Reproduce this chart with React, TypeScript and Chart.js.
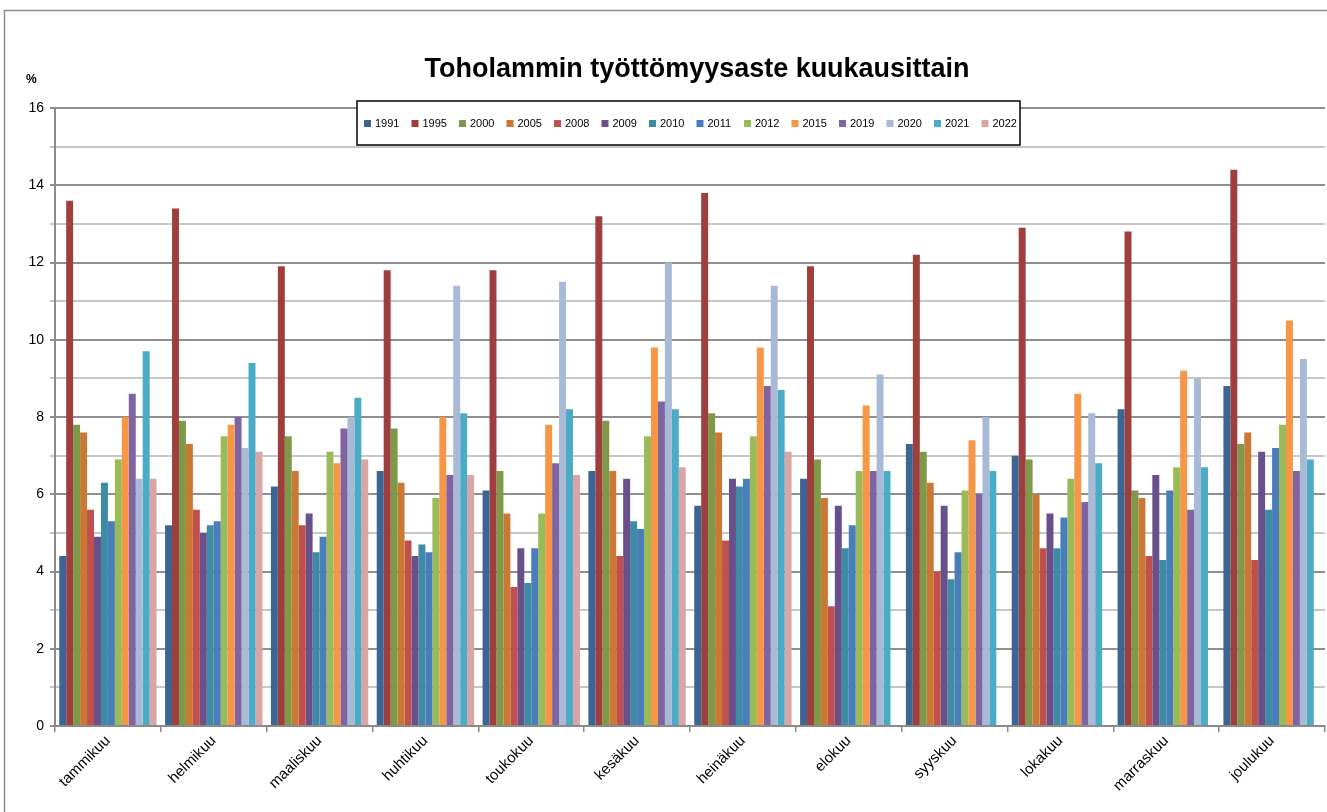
import React, { useEffect, useRef } from "react";
import { Chart, registerables } from "chart.js";

Chart.register(...registerables);

const months = ["tammikuu", "helmikuu", "maaliskuu", "huhtikuu", "toukokuu", "kesäkuu", "heinäkuu", "elokuu", "syyskuu", "lokakuu", "marraskuu", "joulukuu"];
const years = ["1991", "1995", "2000", "2005", "2008", "2009", "2010", "2011", "2012", "2015", "2019", "2020", "2021", "2022"];

const v1991 = [4.4, 5.2, 6.2, 6.6, 6.1, 6.6, 5.7, 6.4, 7.3, 7.0, 8.2, 8.8];
const v1995 = [13.6, 13.4, 11.9, 11.8, 11.8, 13.2, 13.8, 11.9, 12.2, 12.9, 12.8, 14.4];
const v2000 = [7.8, 7.9, 7.5, 7.7, 6.6, 7.9, 8.1, 6.9, 7.1, 6.9, 6.1, 7.3];
const v2005 = [7.6, 7.3, 6.6, 6.3, 5.5, 6.6, 7.6, 5.9, 6.3, 6.0, 5.9, 7.6];
const v2008 = [5.6, 5.6, 5.2, 4.8, 3.6, 4.4, 4.8, 3.1, 4.0, 4.6, 4.4, 4.3];
const v2009 = [4.9, 5.0, 5.5, 4.4, 4.6, 6.4, 6.4, 5.7, 5.7, 5.5, 6.5, 7.1];
const v2010 = [6.3, 5.2, 4.5, 4.7, 3.7, 5.3, 6.2, 4.6, 3.8, 4.6, 4.3, 5.6];
const v2011 = [5.3, 5.3, 4.9, 4.5, 4.6, 5.1, 6.4, 5.2, 4.5, 5.4, 6.1, 7.2];
const v2012 = [6.9, 7.5, 7.1, 5.9, 5.5, 7.5, 7.5, 6.6, 6.1, 6.4, 6.7, 7.8];
const v2015 = [8.0, 7.8, 6.8, 8.0, 7.8, 9.8, 9.8, 8.3, 7.4, 8.6, 9.2, 10.5];
const v2019 = [8.6, 8.0, 7.7, 6.5, 6.8, 8.4, 8.8, 6.6, 6.0, 5.8, 5.6, 6.6];
const v2020 = [6.4, 7.2, 8.0, 11.4, 11.5, 12.0, 11.4, 9.1, 8.0, 8.1, 9.0, 9.5];
const v2021 = [9.7, 9.4, 8.5, 8.1, 8.2, 8.2, 8.7, 6.6, 6.6, 6.8, 6.7, 6.9];
const v2022 = [6.4, 7.1, 6.9, 6.5, 6.5, 6.7, 7.1, null, null, null, null, null];

const seriesValues = [v1991, v1995, v2000, v2005, v2008, v2009, v2010, v2011, v2012, v2015, v2019, v2020, v2021, v2022];
const colors = ["#3D6594", "#9E3F3D", "#7E9A49", "#CB7834", "#C0504D", "#68508A", "#3D8BA5", "#4A7EBB", "#9BBB59", "#F79646", "#8064A2", "#A9BAD7", "#4BACC6", "#D9A6A5"];

const titleText = "Toholammin työttömyysaste kuukausittain";
const yUnit = "%";
const FONT = "'Liberation Sans', Arial, sans-serif";

const decorPlugin = {
  id: "decor",
  beforeDraw(chart: any) {
    const ctx = chart.ctx;
    ctx.save();
    ctx.fillStyle = "#ffffff";
    ctx.fillRect(0, 0, chart.width, chart.height);
    ctx.strokeStyle = "#8c8c8c";
    ctx.lineWidth = 1.5;
    ctx.strokeRect(4.5, 10.5, chart.width + 20, chart.height + 20);
    ctx.restore();
  },
  afterDraw(chart: any) {
    const ctx = chart.ctx;
    ctx.save();
    // title
    let size = 26;
    ctx.font = `bold ${size}px ${FONT}`;
    const w = ctx.measureText(titleText).width;
    size = size * 545 / w;
    ctx.font = `bold ${size}px ${FONT}`;
    ctx.fillStyle = "#000";
    ctx.textAlign = "center";
    ctx.textBaseline = "middle";
    ctx.fillText(titleText, 697, 70);
    // unit
    ctx.font = `bold 12px ${FONT}`;
    ctx.textAlign = "left";
    ctx.fillText(yUnit, 26, 80);
    // legend
    const bx = 357, by = 101, bw = 663, bh = 44;
    ctx.fillStyle = "#ffffff";
    ctx.fillRect(bx, by, bw, bh);
    ctx.strokeStyle = "#000";
    ctx.lineWidth = 1.5;
    ctx.strokeRect(bx, by, bw, bh);
    ctx.font = `11px ${FONT}`;
    ctx.textBaseline = "middle";
    const ds = chart.data.datasets;
    for (let i = 0; i < ds.length; i++) {
      const x = 364 + i * 47.5;
      ctx.fillStyle = ds[i].backgroundColor;
      ctx.fillRect(x, 120, 7, 7);
      ctx.fillStyle = "#000";
      ctx.fillText(ds[i].label, x + 11, 124);
    }
    ctx.restore();
  },
};

export default function App() {
  const ref = useRef<HTMLCanvasElement>(null);
  useEffect(() => {
    document.body.style.margin = "0";
    const canvas = ref.current!;
    const chart = new Chart(canvas, {
      type: "bar",
      data: {
        labels: months,
        datasets: years.map((y, i) => ({
          label: y,
          data: seriesValues[i],
          backgroundColor: colors[i],
          borderWidth: 0,
          categoryPercentage: 0.92,
          barPercentage: 1,
        })),
      },
      options: {
        animation: false,
        responsive: false,
        layout: { padding: { top: 108, right: 2, left: 0, bottom: 0 } },
        plugins: {
          legend: { display: false },
          title: { display: false },
          tooltip: { enabled: false },
        },
        scales: {
          x: {
            afterFit(scale: any) { scale.height = 86; },
            ticks: {
              minRotation: 45,
              maxRotation: 45,
              color: "#000",
              font: { family: FONT, size: 15 },
              padding: 0,
            },
            grid: { offset: true, drawOnChartArea: false, tickLength: 6, color: "#8a8a8a", lineWidth: 1.5 },
            border: { color: "#8a8a8a", width: 2 },
          },
          y: {
            min: 0,
            max: 16,
            afterFit(scale: any) { scale.width = 55; },
            ticks: {
              stepSize: 1,
              color: "#000",
              font: { family: FONT, size: 14 },
              padding: 6,
              callback: (v: any) => (Number(v) % 2 === 0 ? String(v) : ""),
            },
            grid: {
              color: (c: any) => (c.tick && c.tick.value % 2 === 0 ? "#8f8f8f" : "#c6c6c6"),
              lineWidth: 2,
              tickLength: 5,
            },
            border: { color: "#8a8a8a", width: 2 },
          },
        },
      },
      plugins: [decorPlugin],
    });
    return () => chart.destroy();
  }, []);
  return <canvas ref={ref} width={1327} height={812} style={{ display: "block" }} />;
}
